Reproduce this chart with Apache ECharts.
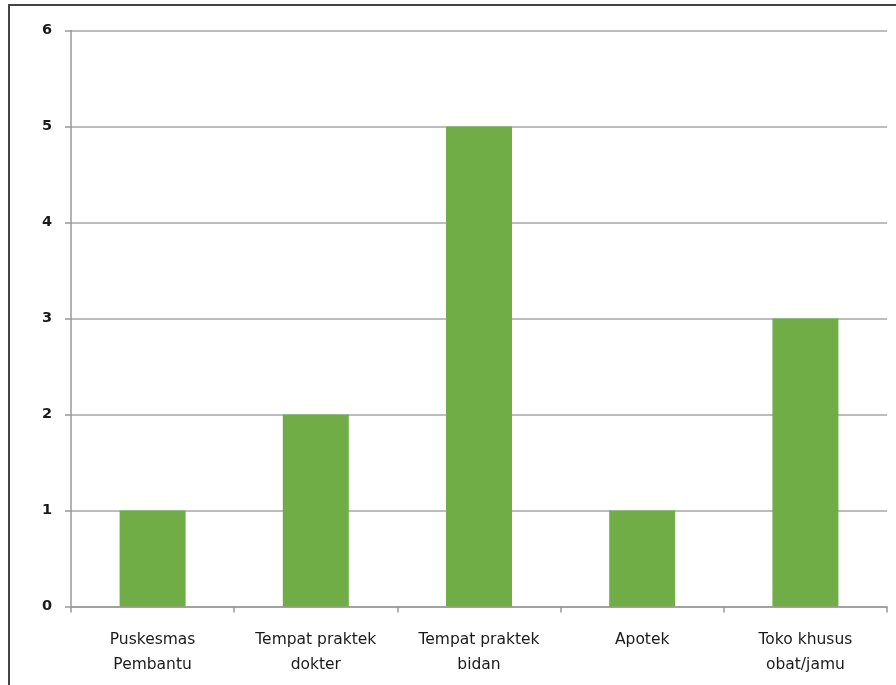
<!DOCTYPE html>
<html><head><meta charset="utf-8">
<script src="https://cdn.jsdelivr.net/npm/echarts@6/dist/echarts.min.js"></script>
<style>html,body{margin:0;padding:0;background:#fff;}#c{width:896px;height:685px;}</style>
</head><body><div id="c"></div>
<script>
const categories = ['Puskesmas\nPembantu', 'Tempat praktek\ndokter', 'Tempat praktek\nbidan', 'Apotek', 'Toko khusus\nobat/jamu'];
const values = [1, 2, 5, 1, 3];
const yTicks = [0, 1, 2, 3, 4, 5, 6];

const chart = echarts.init(document.getElementById('c'), null, {renderer: 'canvas'});
chart.setOption({
  animation: false,
  backgroundColor: '#fff',
  graphic: [{
    type: 'rect', shape: {x: 9, y: 5, width: 1000, height: 1000},
    style: {fill: 'none', stroke: '#444', lineWidth: 2}, silent: true, z: 100
  }],
  grid: {left: 71, top: 30.5, right: 9, bottom: 78.5, containLabel: false},
  xAxis: {
    type: 'category', data: categories,
    axisLine: {lineStyle: {color: '#999', width: 1.5}},
    axisTick: {show: true, length: 6, inside: false, alignWithLabel: false, lineStyle: {color: '#999', width: 1.5}},
    axisLabel: {color: '#1a1a1a', fontFamily: 'DejaVu Sans', fontSize: 15.5, lineHeight: 25, margin: 21}
  },
  yAxis: {
    type: 'value', min: yTicks[0], max: yTicks[yTicks.length - 1], interval: 1,
    axisLine: {show: true, lineStyle: {color: '#999', width: 1.5}},
    axisTick: {show: true, length: 6, lineStyle: {color: '#999', width: 1.5}},
    axisLabel: {color: '#1a1a1a', fontFamily: 'DejaVu Sans', fontSize: 14.5, fontWeight: 'bold', margin: 19, padding: [3, 0, 0, 0]},
    splitLine: {show: true, lineStyle: {color: '#a6a6a6', width: 1.5}}
  },
  series: [{
    type: 'bar', data: values, barWidth: 66,
    itemStyle: {color: '#70AD47'}
  }]
});
</script></body></html>
